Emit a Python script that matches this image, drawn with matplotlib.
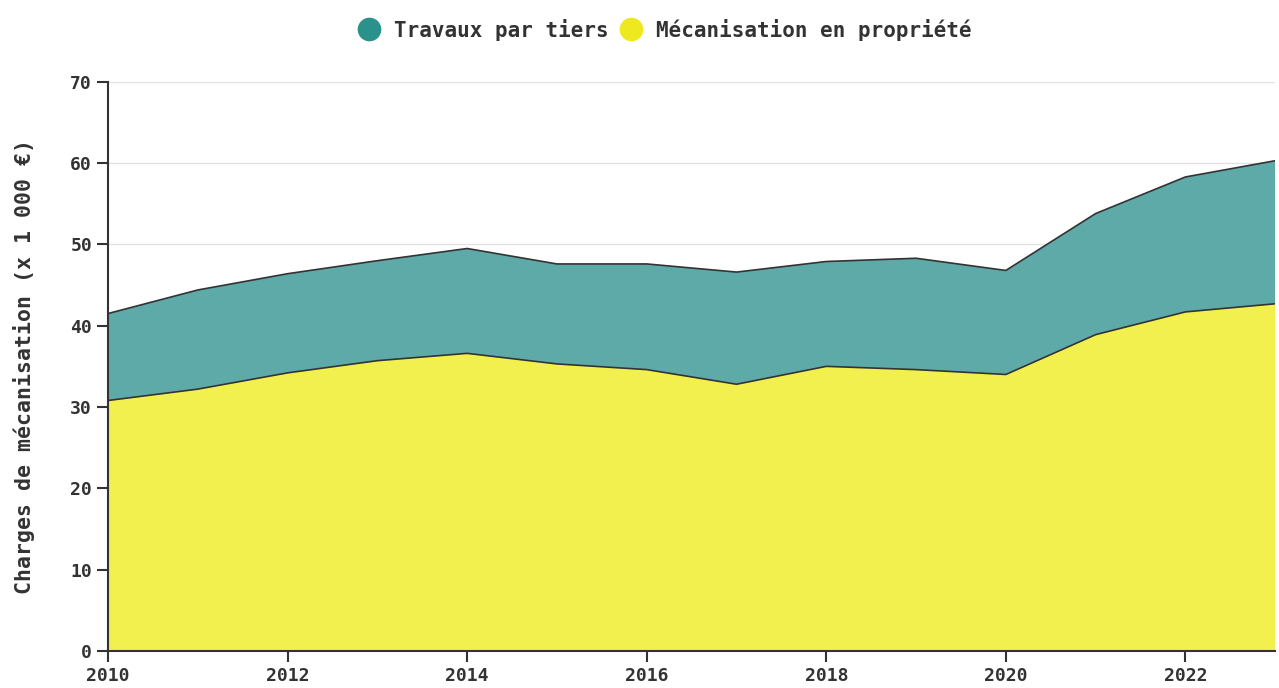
import matplotlib.pyplot as plt
from matplotlib.lines import Line2D

years = [2010, 2011, 2012, 2013, 2014, 2015, 2016, 2017, 2018, 2019, 2020, 2021, 2022, 2023]
# (x 1 000 EUR)
mecanisation = [30.8, 32.2, 34.2, 35.7, 36.6, 35.3, 34.6, 32.8, 35.0, 34.6, 34.0, 38.9, 41.7, 42.7]
total = [41.5, 44.4, 46.4, 48.0, 49.5, 47.6, 47.6, 46.6, 47.9, 48.3, 46.8, 53.8, 58.3, 60.3]
travaux = [t - m for t, m in zip(total, mecanisation)]

plt.rcParams['font.family'] = ['DejaVu Sans Mono']
plt.rcParams['font.weight'] = 'bold'

teal_fill = '#5eaaa8'
yellow_fill = '#f2f04e'
teal = '#2a918b'
yellow = '#ede91e'
dark = '#333333'

fig = plt.figure(figsize=(12.79, 6.88), dpi=100)
ax = fig.add_axes([0.0845, 0.054, 0.9125, 0.827])

ax.stackplot(years, mecanisation, travaux, colors=[yellow_fill, teal_fill], zorder=2)
ax.plot(years, mecanisation, color=dark, lw=1.2, zorder=3)
ax.plot(years, total, color=dark, lw=1.2, zorder=3)

ax.set_xlim(2010, 2023)
ax.set_ylim(0, 70)
ax.set_xticks(range(2010, 2023, 2))
ax.set_yticks(range(0, 71, 10))
ax.grid(axis='y', color='#e3e3e3', lw=1, zorder=1)
ax.set_axisbelow(True)
for s in ['top', 'right']:
    ax.spines[s].set_visible(False)
for s in ['left', 'bottom']:
    ax.spines[s].set_color(dark)
    ax.spines[s].set_linewidth(1.5)
ax.tick_params(length=8, width=1.5, color=dark, labelcolor=dark, labelsize=13)
ax.set_ylabel('Charges de mécanisation (x 1 000 €)', fontsize=15.5, fontweight='bold',
              color=dark)
ax.yaxis.set_label_coords(-0.063, 0.5)

handles = [Line2D([], [], marker='o', ls='', ms=16, color=teal),
           Line2D([], [], marker='o', ls='', ms=16, color=yellow)]
fig.legend(handles, ['Travaux par tiers', 'Mécanisation en propriété'], loc='upper center',
           bbox_to_anchor=(0.516, 1.0), ncol=2, frameon=False, fontsize=15,
           handletextpad=0.2, columnspacing=0.1, labelcolor=dark)

fig.savefig('out.png')
